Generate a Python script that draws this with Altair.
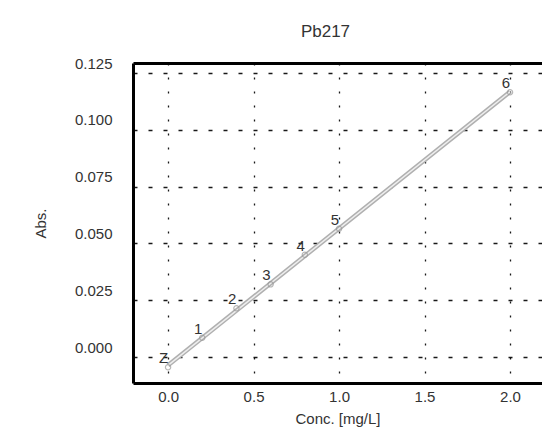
import altair as alt
import pandas as pd

# Calibration standards
labels = ["Z", "1", "2", "3", "4", "5", "6"]
conc = [0.0, 0.2, 0.4, 0.6, 0.8, 1.0, 2.0]
absorb = [-0.0045, 0.0085, 0.0215, 0.0320, 0.0450, 0.0565, 0.1165]

x_ticks = [0.0, 0.5, 1.0, 1.5, 2.0]
y_ticks = [0.000, 0.025, 0.050, 0.075, 0.100, 0.125]

df = pd.DataFrame({"label": labels, "conc": conc, "abs": absorb})

FONT = "Liberation Sans"
TXT = "#333333"

xscale = alt.Scale(domain=[-0.205, 2.187], nice=False, zero=False)
yscale = alt.Scale(domain=[-0.0114, 0.1294], nice=False, zero=False)

xaxis = alt.Axis(
    values=x_ticks, format=".1f", title="Conc. [mg/L]",
    domainColor="black", domainWidth=3, ticks=False,
    labelFont=FONT, labelFontSize=15, labelColor=TXT, labelPadding=6,
    titleFont=FONT, titleFontSize=15, titleFontWeight="normal", titleColor=TXT,
    titlePadding=7,
    grid=True, gridColor="black", gridDash=[2, 12], gridWidth=1.3, gridOpacity=0.9,
)
xaxis_top = alt.Axis(
    orient="top", labels=False, ticks=False, grid=False, title=None,
    domainColor="black", domainWidth=3,
)
yaxis = alt.Axis(
    values=y_ticks, format=".3f", title="Abs.",
    domainColor="black", domainWidth=3, ticks=False,
    labelFont=FONT, labelFontSize=15, labelColor=TXT, labelPadding=21, labelOffset=-10,
    titleFont=FONT, titleFontSize=15, titleFontWeight="normal", titleColor=TXT,
    titlePadding=26,
    grid=True, gridColor="black", gridDash=[4, 11], gridWidth=1.3, gridOpacity=0.9,
)

base = alt.Chart(df)

outer = base.transform_regression("conc", "abs").mark_line(
    color="#b0b0b0", strokeWidth=4.5
).encode(x=alt.X("conc:Q", scale=xscale, axis=xaxis), y=alt.Y("abs:Q", scale=yscale, axis=yaxis))

inner = base.transform_regression("conc", "abs").mark_line(
    color="#eeeeee", strokeWidth=1.5
).encode(x=alt.X("conc:Q", scale=xscale, axis=xaxis_top), y=alt.Y("abs:Q", scale=yscale))

pts = base.mark_point(shape="circle", size=28, filled=False, color="#999999", strokeWidth=1.2).encode(
    x=alt.X("conc:Q", scale=xscale, axis=None), y=alt.Y("abs:Q", scale=yscale)
)

txt = base.mark_text(
    font=FONT, fontSize=15, color=TXT, align="right", baseline="bottom", dx=0, dy=-1
).encode(
    x=alt.X("conc:Q", scale=xscale, axis=None),
    y=alt.Y("abs:Q", scale=yscale),
    text="label:N",
)

chart = alt.layer(outer, inner, pts, txt).resolve_axis(x="independent").properties(
    width=409, height=320,
    autosize=alt.AutoSizeParams(type="none"),
    padding={"left": 133, "top": 63, "right": 0, "bottom": 44},
    title=alt.TitleParams("Pb217", font=FONT, fontSize=17, fontWeight="normal",
                          color=TXT, anchor="middle", dx=-12, offset=15),
).configure_view(stroke=None).configure(background="white")

chart.save("out.html", embed_options={"renderer": "svg", "actions": False})
